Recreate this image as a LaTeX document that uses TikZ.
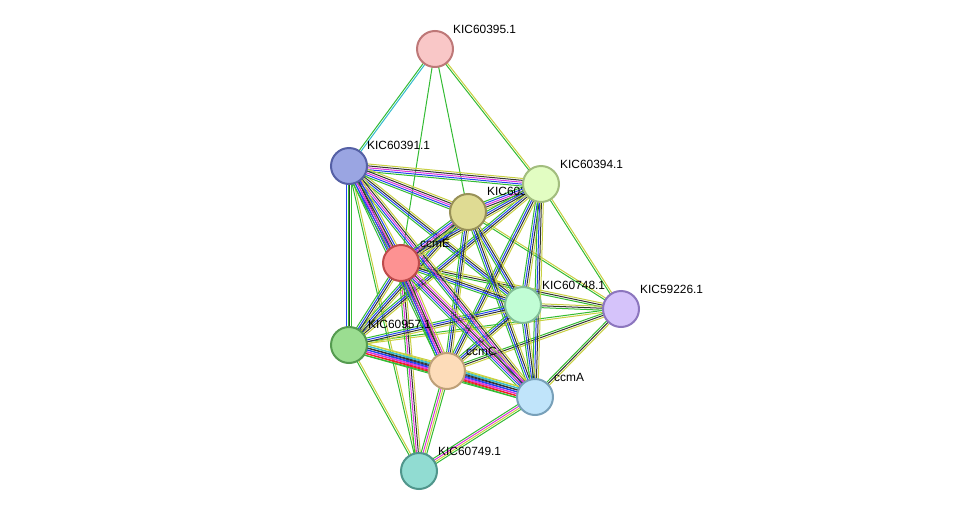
\documentclass[tikz,border=0pt]{standalone}
\usetikzlibrary{calc}
\usepackage{fontspec}
\setmainfont{Liberation Sans}
\definecolor{tg}{HTML}{33BB33}
\definecolor{ty}{HTML}{C8D040}
\definecolor{tb}{HTML}{2244EE}
\definecolor{tk}{HTML}{333333}
\definecolor{tm}{HTML}{DD33DD}
\definecolor{tc}{HTML}{33BBCC}
\definecolor{tr}{HTML}{EE2222}
\newcommand\edg[4]{%
  \foreach \cc [count=\ii] in {#4}{%
    \pgfmathsetmacro\oo{(\ii-(#3+1)/2)*1.9}%
    \draw[\cc,line width=1pt] ($(#1)!\oo pt!90:(#2)$) -- ($(#2)!\oo pt!-90:(#1)$);}}
\begin{document}
\begin{tikzpicture}[x=1pt,y=-1pt,
  nd/.style={circle,minimum size=36pt,inner sep=0pt,line width=2pt},
  lb/.style={font=\fontsize{11.9}{12}\selectfont,anchor=south west,inner sep=1pt}]
\useasboundingbox (0,0) rectangle (975,517);
\coordinate (a395) at (435,49);
\coordinate (a391) at (349,166);
\coordinate (a394) at (541,184);
\coordinate (a393) at (468,212);
\coordinate (e) at (401,263);
\coordinate (a748) at (523,305);
\coordinate (a226) at (621,309);
\coordinate (a957) at (349,345);
\coordinate (c) at (447,371);
\coordinate (ca) at (535,397);
\coordinate (a749) at (419,471);
% thin
\edg{a395}{a391}{2}{tg,tc}
\edg{a395}{e}{1}{tg}
\edg{a395}{a393}{1}{tg}
\edg{a395}{a394}{2}{tg,ty}
\edg{a391}{a749}{2}{tg,ty}
\edg{a394}{a226}{2}{tg,ty}
\edg{a393}{a226}{2}{tg,ty}
\edg{e}{a226}{3}{tg,tk,ty}
\edg{a748}{a226}{3}{tg,tk,ty}
\edg{a226}{a957}{2}{tg,ty}
\edg{a226}{c}{3}{tg,tk,ty}
\edg{a226}{ca}{3}{tg,tk,ty}
\edg{a957}{a749}{2}{tg,ty}
\edg{ca}{a749}{4}{tg,tm,ty,tg}
\edg{c}{a749}{4}{tg,tm,ty,tg}
\edg{e}{a749}{4}{tg,tm,tk,ty}
% mid
\edg{a391}{a957}{4}{tb,tg,tk,tg}
\edg{a391}{a748}{4}{tg,tb,tk,ty}
\edg{a394}{a748}{4}{tg,tb,tk,ty}
\edg{a394}{a957}{4}{tg,tb,tk,ty}
\edg{a394}{c}{4}{tg,tb,tk,ty}
\edg{a394}{ca}{4}{tg,tb,tk,ty}
\edg{a393}{a748}{4}{tg,tb,tk,ty}
\edg{a393}{a957}{4}{tg,tb,tk,ty}
\edg{a393}{c}{4}{tg,tb,tk,ty}
\edg{a393}{ca}{4}{tg,tb,tk,ty}
\edg{e}{a748}{4}{tg,tb,tk,ty}
\edg{a748}{a957}{4}{tg,tb,tk,ty}
\edg{a748}{c}{4}{tg,tb,tk,ty}
\edg{a748}{ca}{4}{tg,tb,tk,ty}
\edg{e}{a957}{4}{tg,tb,tk,ty}
\edg{a391}{c}{5}{tg,tb,tm,tk,ty}
\edg{a391}{ca}{5}{tg,tb,tm,tk,ty}
\edg{a391}{a394}{5}{tg,tb,tm,tk,ty}
\edg{a391}{a393}{5}{tg,tb,tm,tk,ty}
\edg{a394}{a393}{5}{tg,tb,tm,tk,ty}
\edg{a394}{e}{4}{tg,tb,tk,ty}
\edg{a393}{e}{5}{tg,tb,tm,tk,ty}
% heavy
\edg{a391}{e}{6}{tg,tb,tm,tk,tb,ty}
\edg{e}{c}{6}{tg,tb,tm,tk,tm,ty}
\edg{e}{ca}{6}{tg,tb,tm,tk,tm,ty}
\edg{a957}{c}{7}{tg,tr,tm,tb,tk,tc,ty}
\edg{a957}{ca}{7}{tg,tr,tm,tb,tk,tc,ty}
\edg{c}{ca}{7}{tg,tr,tm,tb,tk,tc,ty}
% nodes
\node[nd,draw={rgb,255:red,190;green,120;blue,120},fill={rgb,255:red,249;green,199;blue,199}] (n395) at (a395) {};
\node[lb] at (452,35) {KIC60395.1};
\node[nd,draw={rgb,255:red,85;green,96;blue,165},fill={rgb,255:red,154;green,165;blue,226}] (n391) at (a391) {};
\node[lb] at (366,151) {KIC60391.1};
\node[nd,draw={rgb,255:red,152;green,145;blue,88},fill={rgb,255:red,223;green,219;blue,147}] (n393) at (a393) {};
\node[lb] at (486,197) {KIC60393.1};
\node[nd,draw={rgb,255:red,162;green,189;blue,126},fill={rgb,255:red,226;green,253;blue,194}] (n394) at (a394) {};
\node[lb] at (559,170) {KIC60394.1};
\node[nd,draw={rgb,255:red,190;green,75;blue,75},fill={rgb,255:red,253;green,146;blue,146}] (ne) at (e) {};
\node[lb] at (419,249) {ccmE};
\node[nd,draw={rgb,255:red,130;green,190;blue,150},fill={rgb,255:red,193;green,253;blue,213}] (n748) at (a748) {};
\node[lb] at (541,291) {KIC60748.1};
\node[nd,draw={rgb,255:red,140;green,118;blue,190},fill={rgb,255:red,213;green,195;blue,250}] (n226) at (a226) {};
\node[lb] at (639,295) {KIC59226.1};
\node[nd,draw={rgb,255:red,85;green,155;blue,80},fill={rgb,255:red,155;green,221;blue,145}] (n957) at (a957) {};
\node[lb] at (367,330) {KIC60957.1};
\node[nd,draw={rgb,255:red,190;green,160;blue,120},fill={rgb,255:red,253;green,220;blue,185}] (nc) at (c) {};
\node[lb] at (465,357) {ccmC};
\node[nd,draw={rgb,255:red,120;green,160;blue,185},fill={rgb,255:red,192;green,228;blue,250}] (nca) at (ca) {};
\node[lb] at (553,383) {ccmA};
\node[nd,draw={rgb,255:red,80;green,150;blue,140},fill={rgb,255:red,145;green,220;blue,210}] (n749) at (a749) {};
\node[lb] at (437,457) {KIC60749.1};
\end{tikzpicture}
\end{document}
